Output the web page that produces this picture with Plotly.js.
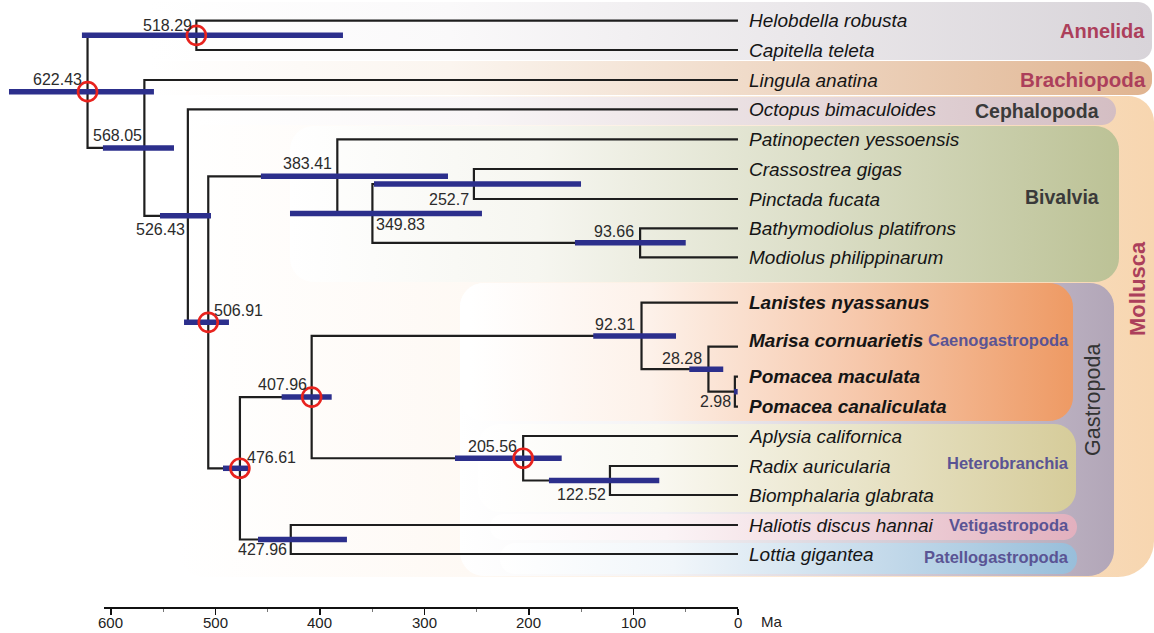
<!DOCTYPE html>
<html><head><meta charset="utf-8">
<script src="https://cdn.plot.ly/plotly-3.0.1.min.js"></script>
<style>html,body{margin:0;padding:0;background:#fff;}#chart{width:1154px;height:633px;}</style>
</head><body><div id="chart"></div>
<script>
// ---------------- DATA ----------------
const leafNames = [
  'Helobdella robusta','Capitella teleta','Lingula anatina','Octopus bimaculoides',
  'Patinopecten yessoensis','Crassostrea gigas','Pinctada fucata','Bathymodiolus platifrons',
  'Modiolus philippinarum','Lanistes nyassanus','Marisa cornuarietis','Pomacea maculata',
  'Pomacea canaliculata','Aplysia californica','Radix auricularia','Biomphalaria glabrata',
  'Haliotis discus hannai','Lottia gigantea'
];
const highlightedLeaves = ['Lanistes nyassanus','Marisa cornuarietis','Pomacea maculata','Pomacea canaliculata'];

const nodeNames = ['root','annelida','n568','n526','n507','bivalvia','n350','n253','n94',
  'gastropoda','n408','caeno','n28','n3','hetero','n123','n428'];
const nodeAges = [622.43,518.29,568.05,526.43,506.91,383.41,349.83,252.7,93.66,
  476.61,407.96,92.31,28.28,2.98,205.56,122.52,427.96];
const hpdOlder   = [697.6,627.8,607.7,553.1,530.1,456.5,428.7,348.3,156.0,
  492.8,436.7,138.5,46.6,3.8,270.8,180.9,459.3];
const hpdYounger = [558.9,378.0,539.7,504.3,487.1,277.5,245.0,150.2,50.0,
  468.9,388.8,59.3,14.1,0.3,168.7,75.3,374.2];
const nodeChildren = [
  ['annelida','n568'],
  ['Helobdella robusta','Capitella teleta'],
  ['Lingula anatina','n526'],
  ['Octopus bimaculoides','n507'],
  ['bivalvia','gastropoda'],
  ['Patinopecten yessoensis','n350'],
  ['n253','n94'],
  ['Crassostrea gigas','Pinctada fucata'],
  ['Bathymodiolus platifrons','Modiolus philippinarum'],
  ['n408','n428'],
  ['caeno','hetero'],
  ['Lanistes nyassanus','n28'],
  ['Marisa cornuarietis','n3'],
  ['Pomacea maculata','Pomacea canaliculata'],
  ['Aplysia californica','n123'],
  ['Radix auricularia','Biomphalaria glabrata'],
  ['Haliotis discus hannai','Lottia gigantea']
];
const calibratedNodes = ['root','annelida','n507','gastropoda','n408','hetero'];

const cladeNames = ['Annelida','Brachiopoda','Mollusca','Cephalopoda','Bivalvia','Gastropoda',
  'Caenogastropoda','Heterobranchia','Vetigastropoda','Patellogastropoda'];
const timeTicks = [600,500,400,300,200,100,0];
const minorTimeTicks = [550,450,350,250,150,50];
const timeUnit = 'Ma';

// ---------------- LAYOUT CONSTANTS ----------------
const W = 1154, H = 633;
const leafRowY = [20.7,50,80,109.3,139.3,169,199,228.3,257.3,302.7,346.7,376.7,406.7,436,466,495,525,554];
const leafLabelYShift = [0,0,0,0,0,0,0,0,0,0,6,0,0,0,0,0,0,0];
// node label placement: [side ('l' = text to left, 'r' = to right), vertical ('a' above, 'b' below), xshift, yshift]
const labelPlace = {
  root:['l','a',-4,2], annelida:['l','a',-2,-1], n568:['l','a',0,1.6], n526:['l','b',-1,-3],
  n507:['r','a',4,1.6], bivalvia:['l','a',-3,2.6], n350:['r','b',2,-1], n253:['l','b',-3,-4.5],
  n94:['l','a',-4,1], gastropoda:['r','a',5,0], n408:['l','a',-3,2], caeno:['l','a',-5,0.6],
  n28:['l','a',-4,0.6], n3:['l','b',-2,0.7], hetero:['l','a',-4,1.6], n123:['l','b',-2,-3.5],
  n428:['l','b',-2,0.5]
};
// background bands (pixel space): [x0, x1, yTop, yBot, radii[tl,tr,br,bl], gradStart, rgb]
const bandGeom = [
  [150,1152,2,60,[0,14,14,0],150,[216,212,217]],
  [150,1152,61,95,[0,14,14,0],150,[224,180,144]],
  [178,1154,96,577,[26,26,36,26],178,[247,214,176]],
  [200,1116,97,125,[0,14,14,0],200,[212,190,195]],
  [290,1119,126,282,[24,24,24,24],290,[188,194,150]],
  [460,1114,283,576,[24,24,26,24],460,[178,166,184]],
  [460,1073,283,421,[24,24,24,24],470,[238,154,100]],
  [478,1076,424,512,[22,22,22,22],478,[214,204,154]],
  [490,1077,514,540,[13,13,13,13],490,[226,176,190]],
  [500,1077,543,574,[15,15,15,15],500,[152,190,218]]
];
// clade label placement: [x, y, anchor, color, size, bold, angle]
const cladeLabelGeom = [
  [1147,31,'right','#ac3f5b',20,true,0],
  [1148,79,'right','#ac3f5b',20.5,true,0],
  [1137,289,'center','#ac3f5b',22,true,-90],
  [1101,111,'right','#3a3a3a',19.5,true,0],
  [1101,197,'right','#3a3a3a',19.5,true,0],
  [1093,400,'center','#333333',21.5,false,-90],
  [1071,340,'right','#5a5494',16.5,true,0],
  [1071,463,'right','#5a5494',16.5,true,0],
  [1071,525,'right','#5a5494',16.5,true,0],
  [1071,557,'right','#5a5494',16.5,true,0]
];

const FONT = 'Arial, "Liberation Sans", Helvetica, sans-serif';

// ---------------- BUILD ----------------
function roundedRect(x0,x1,yT,yB,r){
  const xs=[], ys=[];
  const arc=(cx,cy,rad,a0,a1)=>{ for(let k=0;k<=10;k++){const a=(a0+(a1-a0)*k/10)*Math.PI/180; xs.push(cx+rad*Math.cos(a)); ys.push(cy+rad*Math.sin(a));} };
  const [tl,tr,br,bl]=r;
  arc(x1-tr,yT+tr,tr,-90,0);
  arc(x1-br,yB-br,br,0,90);
  arc(x0+bl,yB-bl,bl,90,180);
  arc(x0+tl,yT+tl,tl,180,270);
  xs.push(xs[0]); ys.push(ys[0]);
  return {xs,ys};
}

const traces = [];
bandGeom.forEach((b)=>{
  const rr = roundedRect(b[0],b[1],b[2],b[3],b[4]);
  const c = b[6];
  const mix = t => `rgb(${Math.round(255-(255-c[0])*t)},${Math.round(255-(255-c[1])*t)},${Math.round(255-(255-c[2])*t)})`;
  traces.push({
    type:'scatter', mode:'none', x:rr.xs, y:rr.ys, xaxis:'x', yaxis:'y',
    fill:'toself', hoverinfo:'skip',
    fillgradient:{type:'horizontal', start:b[5], stop:b[1],
      colorscale:[[0,mix(0)],[0.3,mix(0.14)],[0.65,mix(0.55)],[1,mix(1)]]}
  });
});

// tree geometry
const yOf = {}, ageOf = {};
leafNames.forEach((n,i)=>{ yOf[n]=leafRowY[i]; ageOf[n]=0; });
nodeNames.forEach((n,i)=>{ ageOf[n]=nodeAges[i]; });
function nodeY(name){
  if(name in yOf) return yOf[name];
  const i = nodeNames.indexOf(name);
  const ys = nodeChildren[i].map(nodeY);
  const y = (Math.min(...ys)+Math.max(...ys))/2;
  yOf[name]=y; return y;
}
nodeNames.forEach(nodeY);

const bx=[], by=[];
nodeNames.forEach((n,i)=>{
  const a = nodeAges[i];
  const [c1,c2] = nodeChildren[i];
  bx.push(ageOf[c1],a,a,ageOf[c2],null);
  by.push(yOf[c1],yOf[c1],yOf[c2],yOf[c2],null);
});
traces.push({type:'scatter',mode:'lines',x:bx,y:by,xaxis:'x2',yaxis:'y',
  line:{color:'#1e1e1e',width:2.2},hoverinfo:'skip'});

const hx=[], hy=[];
nodeNames.forEach((n,i)=>{ hx.push(hpdOlder[i],hpdYounger[i],null); hy.push(yOf[n],yOf[n],null); });
traces.push({type:'scatter',mode:'lines',x:hx,y:hy,xaxis:'x2',yaxis:'y',
  line:{color:'#2c2f8c',width:5.5},hoverinfo:'skip'});

traces.push({type:'scatter',mode:'markers',
  x:calibratedNodes.map(n=>ageOf[n]), y:calibratedNodes.map(n=>yOf[n]),
  xaxis:'x2',yaxis:'y',
  marker:{symbol:'circle-open',size:19,color:'#e8231e',line:{width:2.6,color:'#e8231e'}},hoverinfo:'skip'});

// scale bar axis carrier
traces.push({type:'scatter',mode:'markers',x:[],y:[],xaxis:'x3',yaxis:'y3',hoverinfo:'skip'});

const annotations = [];
nodeNames.forEach((n,i)=>{
  const p = labelPlace[n];
  annotations.push({xref:'x2',yref:'y',x:nodeAges[i],y:yOf[n],text:String(nodeAges[i]),showarrow:false,
    xanchor:p[0]==='l'?'right':'left', yanchor:p[1]==='a'?'bottom':'top', xshift:p[2], yshift:p[3],
    font:{family:FONT,size:16,color:'#2b2b2b'}});
});
leafNames.forEach((n,i)=>{
  const hl = highlightedLeaves.includes(n);
  annotations.push({xref:'x2',yref:'y',x:0,y:yOf[n],text:hl?`<b><i>${n}</i></b>`:`<i>${n}</i>`,
    showarrow:false,xanchor:'left',yanchor:'middle',xshift:9,yshift:leafLabelYShift[i],
    font:{family:FONT,size:19,color:'#151515'}});
});
cladeNames.forEach((n,i)=>{
  const g = cladeLabelGeom[i];
  annotations.push({xref:'x',yref:'y',x:g[0],y:g[1],text:g[5]?`<b>${n}</b>`:n,showarrow:false,
    xanchor:g[2],yanchor:'middle',textangle:g[6],font:{family:FONT,size:g[4],color:g[3]}});
});
// scale-bar tick labels
timeTicks.forEach(t=>{
  annotations.push({xref:'x3',yref:'y',x:t,y:622,text:String(t),showarrow:false,xanchor:'center',yanchor:'middle',
    font:{family:FONT,size:15,color:'#222'}});
});
annotations.push({xref:'x',yref:'y',x:759,y:621,text:timeUnit,showarrow:false,xanchor:'left',yanchor:'middle',
  font:{family:FONT,size:15,color:'#222'}});

const layout = {
  width:W,height:H,margin:{l:0,r:0,t:0,b:0},paper_bgcolor:'#ffffff',plot_bgcolor:'rgba(0,0,0,0)',
  showlegend:false,
  xaxis:{range:[0,W],visible:false,fixedrange:true},
  yaxis:{range:[H,0],visible:false,fixedrange:true},
  xaxis2:{overlaying:'x',anchor:'y',range:[706.2,-398.1],visible:false,fixedrange:true},
  xaxis3:{domain:[104/W,738/W],anchor:'y3',range:[606.68,0],showline:true,linecolor:'#111',linewidth:2,
    ticks:'outside',ticklen:6,tickwidth:1.5,tickcolor:'#111',tickvals:timeTicks,showticklabels:false,
    showgrid:false,zeroline:false,
    minor:{tickvals:minorTimeTicks,ticks:'outside',ticklen:3,tickwidth:1,tickcolor:'#777',showgrid:false},
    fixedrange:true},
  yaxis3:{domain:[(H-607)/H,(H-597)/H],anchor:'x3',visible:false,range:[0,1],fixedrange:true},
  annotations:annotations
};
Plotly.newPlot('chart',traces,layout,{displayModeBar:false,staticPlot:true});
</script></body></html>
